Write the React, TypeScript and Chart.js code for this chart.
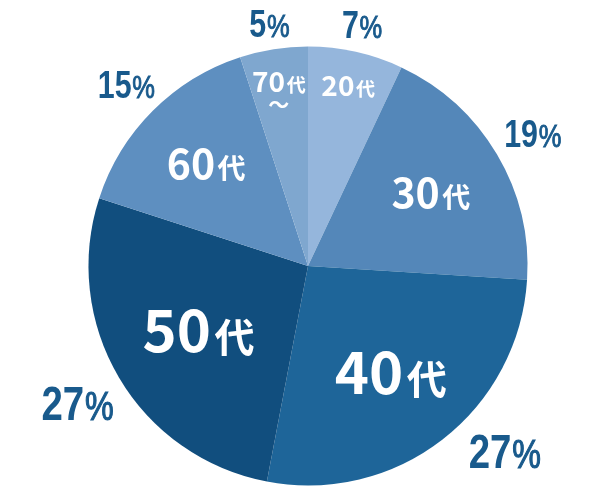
import React, { useEffect, useRef } from 'react';
import { Chart, registerables } from 'chart.js';

Chart.register(...registerables);

// ---- data ----
const categories = ['20代', '30代', '40代', '50代', '60代', '70代～'];
const shares = [7, 19, 27, 27, 15, 5];

// ---- styles ----
const sliceColors = ['#95b6dc', '#5487b9', '#1e6599', '#114e7e', '#5e8fc0', '#7fa7cf'];
const pctColor = '#195a8c';
const insideDigitSize = [28, 41, 58, 58, 41, 28];
const insideKanjiSize = [19, 28, 40, 40, 28, 19];
const insideRadius = [0.84, 0.65, 0.615, 0.58, 0.656, 0.85];
const outsideSize = [38, 38, 48, 48, 38, 38];
const outsideRadius = [1.13, 1.19, 1.23, 1.22, 1.17, 1.12];
const outsideAngleShift = [0, 0, -9, 0, 0, 0];

const JP = '"Noto Sans CJK JP", "Noto Sans", sans-serif';
const LAT = '"Liberation Sans", Arial, sans-serif';

const labelPlugin = {
  id: 'pieLabels',
  afterDatasetsDraw(chart: any) {
    const ctx: CanvasRenderingContext2D = chart.ctx;
    const meta = chart.getDatasetMeta(0);
    meta.data.forEach((arc: any, i: number) => {
      const { x, y, startAngle, endAngle, outerRadius } = arc.getProps(
        ['x', 'y', 'startAngle', 'endAngle', 'outerRadius'],
        true
      );
      const mid = (startAngle + endAngle) / 2;

      // inside label
      const r = outerRadius * insideRadius[i];
      const cx = x + Math.cos(mid) * r;
      const cy = y + Math.sin(mid) * r;
      const label = categories[i];
      const m = label.match(/^(\d+)(代)(.*)$/);
      const num = m ? m[1] : label;
      const kan = m ? m[2] : '';
      const rest = m ? m[3] : '';
      const ds = insideDigitSize[i];
      const ks = insideKanjiSize[i];
      ctx.save();
      ctx.fillStyle = '#ffffff';
      ctx.textBaseline = 'alphabetic';
      ctx.textAlign = 'left';
      ctx.font = `bold ${ds}px ${JP}`;
      const wNum = ctx.measureText(num).width;
      ctx.font = `bold ${ks}px ${JP}`;
      const wKan = ctx.measureText(kan).width;
      const gap = ds * 0.06;
      const total = wNum + gap + wKan;
      const baseY = cy + ds * 0.365;
      let sx = cx - total / 2;
      ctx.font = `bold ${ds}px ${JP}`;
      ctx.fillText(num, sx, baseY);
      sx += wNum + gap;
      ctx.font = `bold ${ks}px ${JP}`;
      ctx.fillText(kan, sx, baseY);
      if (rest) {
        ctx.textAlign = 'center';
        ctx.textBaseline = 'middle';
        ctx.font = `bold ${ks + 2}px ${JP}`;
        ctx.fillText(rest, cx, cy + ds * 0.78);
      }
      ctx.restore();

      // outside percentage
      const a = mid + (outsideAngleShift[i] * Math.PI) / 180;
      const ro = outerRadius * outsideRadius[i];
      const ox = x + Math.cos(a) * ro;
      const oy = y + Math.sin(a) * ro;
      const os = outsideSize[i];
      const ps = os * 0.84;
      const digits = String(shares[i]);
      ctx.save();
      ctx.fillStyle = pctColor;
      ctx.textBaseline = 'alphabetic';
      ctx.textAlign = 'left';
      ctx.font = `bold ${os}px ${LAT}`;
      const wd = ctx.measureText(digits).width;
      ctx.font = `${ps}px ${LAT}`;
      const wp = ctx.measureText('%').width;
      const sc = 0.8;
      const tw = (wd + wp + 1) * sc;
      ctx.translate(ox - tw / 2, oy + os * 0.358);
      ctx.scale(sc, 1);
      ctx.font = `bold ${os}px ${LAT}`;
      ctx.fillText(digits, 0, 0);
      ctx.font = `${ps}px ${LAT}`;
      ctx.lineWidth = ps * 0.03;
      ctx.strokeStyle = pctColor;
      ctx.fillText('%', wd + 1, 0);
      ctx.strokeText('%', wd + 1, 0);
      ctx.restore();
    });
  },
};

export default function App() {
  const ref = useRef<HTMLCanvasElement | null>(null);

  useEffect(() => {
    document.body.style.margin = '0';
    const canvas = ref.current;
    if (!canvas) return;
    const chart = new Chart(canvas, {
      type: 'pie',
      data: {
        labels: categories,
        datasets: [
          {
            data: shares,
            backgroundColor: sliceColors,
            borderWidth: 0,
          },
        ],
      },
      options: {
        responsive: false,
        maintainAspectRatio: false,
        animation: false,
        layout: { padding: { left: 88.5, right: 88.5, top: 46.5, bottom: 16.5 } },
        plugins: {
          legend: { display: false },
          tooltip: { enabled: false },
        },
      },
      plugins: [labelPlugin],
    });
    return () => chart.destroy();
  }, []);

  return (
    <div style={{ width: 616, height: 502, background: '#ffffff' }}>
      <canvas ref={ref} width={616} height={502} style={{ display: 'block' }} />
    </div>
  );
}
